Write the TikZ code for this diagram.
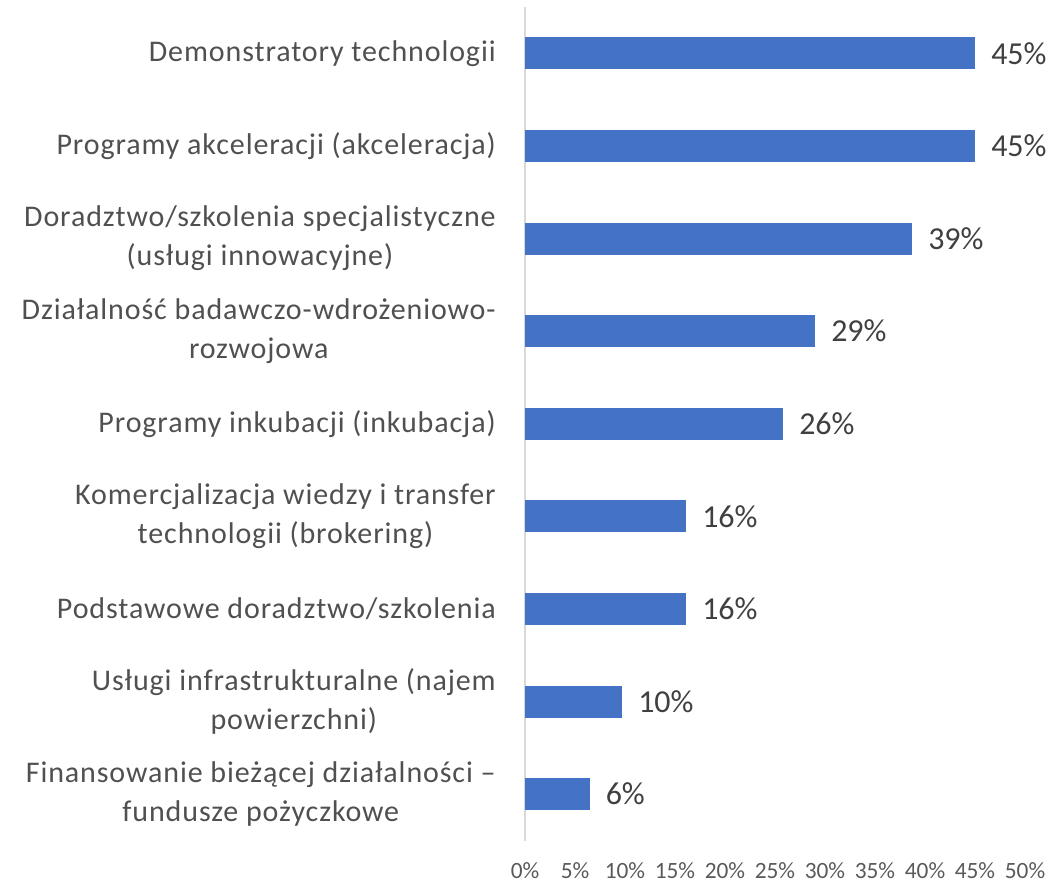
\documentclass[tikz,border=0pt]{standalone}
\usepackage{fontspec}
\setmainfont{Carlito}
\newfontfamily\catfont[LetterSpace=3]{Carlito}
\definecolor{barblue}{HTML}{4472C4}
\definecolor{labgray}{HTML}{404040}
\definecolor{catgray}{HTML}{505050}
\definecolor{tickgray}{HTML}{595959}
\definecolor{axisgray}{HTML}{D9D9D9}
\tikzset{
  catlabel/.style={anchor=east, align=center, text=catgray, inner sep=0pt,
    font=\catfont\fontsize{22.5}{29.25}\selectfont},
  vallabel/.style={anchor=west, text=labgray, inner sep=0pt,
    font=\fontsize{24}{28}\selectfont},
  ticklabel/.style={anchor=center, text=tickgray, inner sep=0pt,
    font=\fontsize{17.5}{20}\selectfont},
  bar/.style={fill=barblue},
  axisline/.style={draw=axisgray, line width=1.5pt}
}
\begin{document}
\begin{tikzpicture}[x=0.75pt, y=-0.75pt]
\useasboundingbox (0,0) rectangle (1051,883);
\draw[axisline] (525,7) coordinate (axtop) -- (525,841) coordinate (axbot);
\foreach \i/\v/\len/\lab in {
  1/45/45/{Demonstratory technologii},
  2/45/45/{Programy akceleracji (akceleracja)},
  3/39/38.7/{Doradztwo/szkolenia specjalistyczne\\(usługi innowacyjne)},
  4/29/29/{Działalność badawczo-wdrożeniowo-\\rozwojowa},
  5/26/25.8/{Programy inkubacji (inkubacja)},
  6/16/16.1/{Komercjalizacja wiedzy i transfer\\technologii (brokering)},
  7/16/16.1/{Podstawowe doradztwo/szkolenia},
  8/10/9.7/{Usługi infrastrukturalne (najem\\powierzchni)},
  9/6/6.45/{Finansowanie bieżącej działalności –\\fundusze pożyczkowe}} {
  \pgfmathsetmacro{\yc}{53.3+92.6*(\i-1)}
  \fill[bar] (525,\yc-16) rectangle (525+10*\len,\yc+16);
  \coordinate (bend\i) at (525+10*\len,\yc);
  \node[vallabel] (val\i) at ([xshift=16*0.75pt]bend\i) {\v\%};
  \node[catlabel] (cat\i) at (496,\yc) {\lab};
}
\foreach \t in {0,5,...,50} {
  \node[ticklabel] (tick\t) at (525+10*\t,871) {\t\%};
}
\end{tikzpicture}
\end{document}
